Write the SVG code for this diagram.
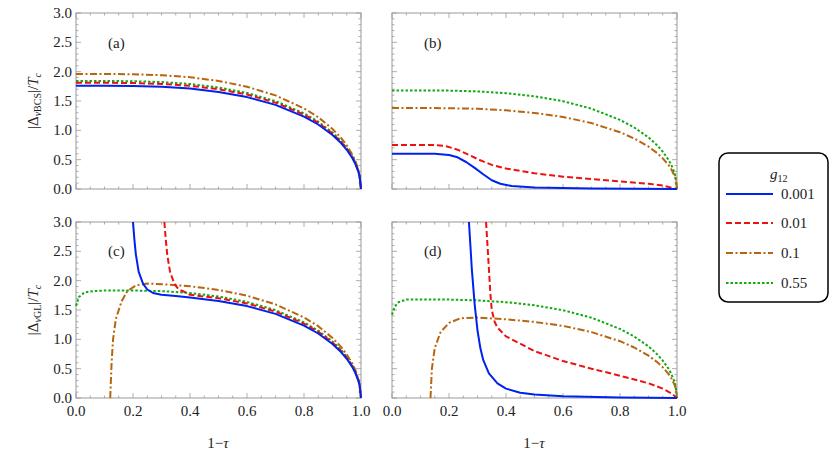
<svg xmlns="http://www.w3.org/2000/svg" width="830" height="455" viewBox="0 0 830 455">
<style>
text{font-family:"Liberation Serif","DejaVu Serif","Times New Roman",serif;font-size:15px;fill:#222}
.ty{text-anchor:end}
.tx{text-anchor:middle}
.fr{fill:none;stroke:#999;stroke-width:1}
.tk{fill:none;stroke:#999;stroke-width:0.8}
.c{fill:none;stroke-width:2;stroke-linejoin:round}
.b{stroke:#0022ee}
.r{stroke:#ee1111;stroke-dasharray:6 3}
.o{stroke:#b8650f;stroke-dasharray:7 2.5 2 2.5}
.g{stroke:#11aa11;stroke-dasharray:2.5 2}
</style>
<defs>
<path id="yt" d="M0,0h5m-5-5.867h2.5m-2.5-5.867h2.5m-2.5-5.867h2.5m-2.5-5.867h2.5m-2.5-5.867h5m-5-5.867h2.5m-2.5-5.867h2.5m-2.5-5.867h2.5m-2.5-5.867h2.5m-2.5-5.867h5m-5-5.867h2.5m-2.5-5.867h2.5m-2.5-5.867h2.5m-2.5-5.867h2.5m-2.5-5.867h5m-5-5.867h2.5m-2.5-5.867h2.5m-2.5-5.867h2.5m-2.5-5.867h2.5m-2.5-5.867h5m-5-5.867h2.5m-2.5-5.867h2.5m-2.5-5.867h2.5m-2.5-5.867h2.5m-2.5-5.867h5m-5-5.867h2.5m-2.5-5.867h2.5m-2.5-5.867h2.5m-2.5-5.867h2.5m-2.5-5.867h5"/>
<path id="xt" d="M0,0v-5m14.25,5v-2.5m14.25,2.5v-2.5m14.25,2.5v-2.5m14.25,2.5v-5m14.25,5v-2.5m14.25,2.5v-2.5m14.25,2.5v-2.5m14.25,2.5v-5m14.25,5v-2.5m14.25,2.5v-2.5m14.25,2.5v-2.5m14.25,2.5v-5m14.25,5v-2.5m14.25,2.5v-2.5m14.25,2.5v-2.5m14.25,2.5v-5m14.25,5v-2.5m14.25,2.5v-2.5m14.25,2.5v-2.5m14.25,2.5v-5"/>
</defs>

<g id="frames">
<rect class="fr" x="76" y="13" width="285" height="176"/>
<rect class="fr" x="392" y="13" width="285" height="176"/>
<rect class="fr" x="76" y="222" width="285" height="176"/>
<rect class="fr" x="392" y="222" width="285" height="176"/>
<g class="tk">
<use href="#yt" transform="translate(76,189)"/><use href="#yt" transform="translate(361,189) scale(-1,1)"/>
<use href="#xt" transform="translate(76,189)"/><use href="#xt" transform="translate(76,13) scale(1,-1)"/>
<use href="#yt" transform="translate(392,189)"/><use href="#yt" transform="translate(677,189) scale(-1,1)"/>
<use href="#xt" transform="translate(392,189)"/><use href="#xt" transform="translate(392,13) scale(1,-1)"/>
<use href="#yt" transform="translate(76,398)"/><use href="#yt" transform="translate(361,398) scale(-1,1)"/>
<use href="#xt" transform="translate(76,398)"/><use href="#xt" transform="translate(76,222) scale(1,-1)"/>
<use href="#yt" transform="translate(392,398)"/><use href="#yt" transform="translate(677,398) scale(-1,1)"/>
<use href="#xt" transform="translate(392,398)"/><use href="#xt" transform="translate(392,222) scale(1,-1)"/>
</g>
</g>

<g id="axis-labels">
<text class="ty" x="72" y="18">3.0</text><text class="ty" x="72" y="47">2.5</text><text class="ty" x="72" y="77">2.0</text><text class="ty" x="72" y="106">1.5</text><text class="ty" x="72" y="135">1.0</text><text class="ty" x="72" y="165">0.5</text><text class="ty" x="72" y="194">0.0</text>
<text class="ty" x="72" y="227">3.0</text><text class="ty" x="72" y="256">2.5</text><text class="ty" x="72" y="286">2.0</text><text class="ty" x="72" y="315">1.5</text><text class="ty" x="72" y="344">1.0</text><text class="ty" x="72" y="374">0.5</text><text class="ty" x="72" y="403">0.0</text>
<text class="tx" x="76" y="416">0.0</text><text class="tx" x="133" y="416">0.2</text><text class="tx" x="190" y="416">0.4</text><text class="tx" x="247" y="416">0.6</text><text class="tx" x="304" y="416">0.8</text><text class="tx" x="361" y="416">1.0</text>
<text class="tx" x="392" y="416">0.0</text><text class="tx" x="449" y="416">0.2</text><text class="tx" x="506" y="416">0.4</text><text class="tx" x="563" y="416">0.6</text><text class="tx" x="620" y="416">0.8</text><text class="tx" x="677" y="416">1.0</text>
<text class="tx" x="218" y="448">1−<tspan font-style="italic">τ</tspan></text>
<text class="tx" x="534" y="448">1−<tspan font-style="italic">τ</tspan></text>
<text class="tx" transform="translate(38,101) rotate(-90)">|Δ<tspan font-size="10" dy="3"><tspan font-style="italic">ν</tspan>BCS</tspan><tspan dy="-3">|/</tspan><tspan font-style="italic">T</tspan><tspan font-size="10" font-style="italic" dy="3">c</tspan></text>
<text class="tx" transform="translate(38,310) rotate(-90)">|Δ<tspan font-size="10" dy="3"><tspan font-style="italic">ν</tspan>GL</tspan><tspan dy="-3">|/</tspan><tspan font-style="italic">T</tspan><tspan font-size="10" font-style="italic" dy="3">c</tspan></text>
<text x="108" y="48">(a)</text><text x="424" y="48">(b)</text><text x="108" y="256">(c)</text><text x="424" y="256">(d)</text>
</g>

<g id="connectors">
<polyline class="c o" points="76,74 104.5,74 133,74.2 161.5,75.2 190,77.2 218.5,80.9 247,86.7 275.5,95.4 304,108.4 318.25,117.2 332.5,128.9 341.05,137.9 346.75,145.4 352.45,154.8 355.3,160.9 358.15,169.1 359.6,174.9 361,189"/>
<polyline class="c g" points="76,81 104.5,81 133,81.2 161.5,82.1 190,84 218.5,87.5 247,92.9 275.5,101.1 304,113.3 318.25,121.6 332.5,132.5 341.05,141 346.75,148.1 352.45,156.9 355.3,162.6 358.15,170.3 359.6,175.7 361,189"/>
<polyline class="c r" points="76,82.8 104.5,82.8 133,83 161.5,83.9 190,85.8 218.5,89.2 247,94.5 275.5,102.6 304,114.6 318.25,122.7 332.5,133.5 341.05,141.8 346.75,148.7 352.45,157.5 355.3,163.1 358.15,170.6 359.6,175.9 361,189"/>
<polyline class="c b" points="76,85.7 104.5,85.7 133,85.9 161.5,86.7 190,88.6 218.5,91.9 247,97.1 275.5,104.9 304,116.6 318.25,124.5 332.5,135 341.05,143.1 346.75,149.8 352.45,158.3 355.3,163.8 358.15,171.1 359.6,176.3 361,189"/>

<polyline class="c g" points="392,90.4 420.5,90.4 449,90.6 477.5,91.4 506,93.2 534.5,96.3 563,101.2 591.5,108.7 620,119.9 634.25,127.5 648.5,137.4 657.05,145.2 662.75,151.6 668.45,159.7 671.3,164.9 674.15,171.9 675.6,176.9 677,189"/>
<polyline class="c o" points="392,108 420.5,108 449,108.2 477.5,108.8 506,110.3 534.5,112.9 563,116.9 591.5,123.1 620,132.2 634.25,138.5 648.5,146.6 657.05,153 662.75,158.3 668.45,164.9 671.3,169.2 674.15,175 675.6,179 677,189"/>
<polyline class="c r" points="392,145 434.75,145 446.15,146.2 457.55,149.7 468.95,155 480.35,160.3 491.75,164.9 506,168.5 534.5,173.2 563,176.7 591.5,179 620,181.4 648.5,183.7 662.75,185.5 677,189"/>
<polyline class="c b" points="392,153.8 434.75,153.8 449,155 457.55,157.3 466.1,162 474.65,167.9 483.2,174.3 491.75,180.2 500.3,183.7 511.7,186.1 534.5,187.5 591.5,188.4 677,189"/>

<polyline class="c o" points="110.2,398 111.6,362.8 113.05,339.3 115.9,318.8 121.6,301.2 127.3,291.2 135.85,285.4 147.25,283.6 161.5,284.2 190,286.2 218.5,289.9 247,295.7 275.5,304.4 304,317.4 318.25,326.2 332.5,337.9 341.05,346.9 346.75,354.4 352.45,363.8 355.3,369.9 358.15,378.1 359.6,383.9 361,398"/>
<polyline class="c g" points="76,305.9 78.85,297.1 84.55,292.4 93.1,291.2 104.5,290.5 133,290.5 161.5,291.1 190,293 218.5,296.5 247,301.9 275.5,310.1 304,322.3 318.25,330.6 332.5,341.5 341.05,350 346.75,357.1 352.45,365.9 355.3,371.6 358.15,379.3 359.6,384.7 361,398"/>
<polyline class="c r" points="164.35,222 165.8,239.6 167.2,254.3 170.05,271.9 174.3,283.6 178.6,289.5 184.3,291.8 190,294.8 218.5,298.2 247,303.5 275.5,311.6 304,323.6 318.25,331.7 332.5,342.5 341.05,350.8 346.75,357.7 352.45,366.5 355.3,372.1 358.15,379.6 359.6,384.9 361,398"/>
<polyline class="c b" points="133,222 134.4,239.6 135.85,254.3 138.7,271.9 143,283.6 147.25,289.5 153,293 161.5,294.7 175.75,295.9 190,297.6 218.5,300.9 247,306.1 275.5,313.9 304,325.6 318.25,333.5 332.5,344 341.05,352.1 346.75,358.8 352.45,367.3 355.3,372.8 358.15,380.1 359.6,385.3 361,398"/>

<polyline class="c g" points="392,314.7 394.85,306.5 398.5,302.2 406.25,299.6 420.5,299.4 449,299.6 477.5,300.4 506,302.2 534.5,305.3 563,310.2 591.5,317.7 620,328.9 634.25,336.5 648.5,346.4 657.05,354.2 662.75,360.6 668.45,368.7 671.3,373.9 674.15,380.9 675.6,385.9 677,398"/>
<polyline class="c o" points="430.5,398 431.9,368.7 434.75,348.1 440.45,332.3 449,322.9 460.4,318.2 477.5,317.6 506,319.3 534.5,321.9 563,325.9 591.5,332.1 620,341.2 634.25,347.5 648.5,355.6 657.05,362 662.75,367.3 668.45,373.9 671.3,378.2 674.15,384 675.6,388 677,398"/>
<polyline class="c r" points="486.05,222 487.5,245.5 488.9,268.9 490.3,292.4 491.75,310 494.6,321.7 497.45,327.6 506,336.4 534.5,351.1 563,361 591.5,368.7 620,375.7 648.5,383.3 662.75,388.6 671.3,393.3 677,398"/>
<polyline class="c b" points="468.95,222 470.4,245.5 471.8,268.9 474.65,304.1 477.5,330.5 480.35,348.1 483.2,359.9 488.9,373.4 497.45,383.3 506,388.6 520.25,392.7 534.5,394.5 563,396.2 620,397.4 677,398"/>
</g>

<g id="legend">
<rect x="719" y="153" width="109" height="149" rx="9" fill="#fff" stroke="#000" stroke-width="1.5"/>
<text x="770" y="179" font-style="italic">g<tspan font-size="10" font-style="normal" dy="3">12</tspan></text>
<line class="c b" x1="726" y1="194" x2="773" y2="194"/>
<line class="c r" x1="726" y1="223" x2="773" y2="223"/>
<line class="c o" x1="726" y1="253" x2="773" y2="253"/>
<line class="c g" x1="726" y1="283" x2="773" y2="283"/>
<text x="781" y="199">0.001</text>
<text x="781" y="228">0.01</text>
<text x="781" y="258">0.1</text>
<text x="781" y="288">0.55</text>
</g>
</svg>
